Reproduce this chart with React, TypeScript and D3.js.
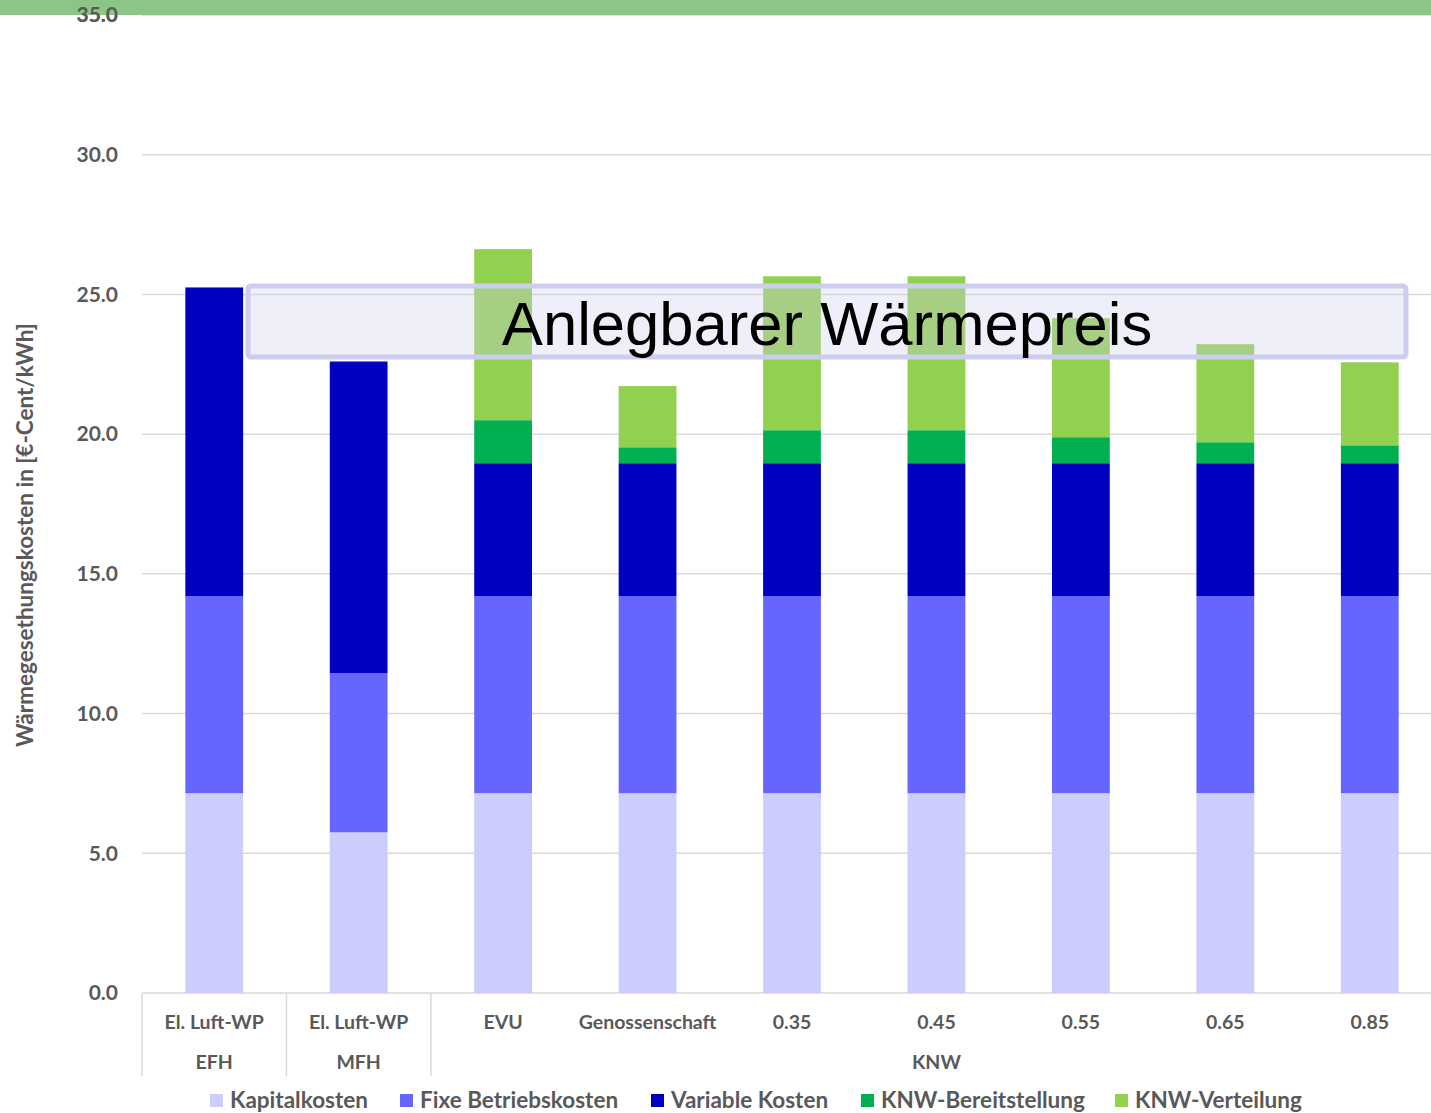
import React from 'react'
import * as d3 from 'd3'

// categories (level 1 / level 2)
const categories = ['El. Luft-WP EFH', 'El. Luft-WP MFH', 'EVU', 'Genossenschaft', '0.35', '0.45', '0.55', '0.65', '0.85']
const catLabels = ['El. Luft-WP', 'El. Luft-WP', 'EVU', 'Genossenschaft', '0.35', '0.45', '0.55', '0.65', '0.85']
const groups = [
  {label: 'EFH', from: 0, to: 0},
  {label: 'MFH', from: 1, to: 1},
  {label: 'KNW', from: 2, to: 8}
]

// series values in ct/kWh
const kapitalkosten = [7.15, 5.75, 7.15, 7.15, 7.15, 7.15, 7.15, 7.15, 7.15]
const fixeBetriebskosten = [7.05, 5.7, 7.05, 7.05, 7.05, 7.05, 7.05, 7.05, 7.05]
const variableKosten = [11.05, 11.15, 4.76, 4.76, 4.76, 4.76, 4.76, 4.76, 4.76]
const knwBereitstellung = [0, 0, 1.54, 0.57, 1.18, 1.18, 0.93, 0.75, 0.64]
const knwVerteilung = [0, 0, 6.12, 2.19, 5.51, 5.51, 4.26, 3.51, 2.97]

const seriesNames = ['Kapitalkosten', 'Fixe Betriebskosten', 'Variable Kosten', 'KNW-Bereitstellung', 'KNW-Verteilung']
const seriesColors = ['#ccccff', '#6666ff', '#0000c0', '#00b050', '#92d050']
const yTicks = [0, 5, 10, 15, 20, 25, 30, 35]

const W = 1431
const H = 1113
const textGray = '#595959'
const font = 'Lato, "Open Sans", sans-serif'

export default function App() {
  const x = d3.scaleBand().domain(categories).range([142, 1442]).paddingInner(0.6).paddingOuter(0.3)
  const y = d3.scaleLinear().domain([0, 35]).range([993, 15])

  const rows = categories.map((c, i) => ({
    cat: c,
    s0: kapitalkosten[i],
    s1: fixeBetriebskosten[i],
    s2: variableKosten[i],
    s3: knwBereitstellung[i],
    s4: knwVerteilung[i]
  }))
  const stacked = d3.stack().keys(['s0', 's1', 's2', 's3', 's4'])(rows as any)

  const step = x.step()
  const x0 = x.range()[0]
  const bandLeft = (i: number) => x0 + i * step

  const legendX = [210, 400, 651, 861, 1115]

  return (
    <svg width={W} height={H} style={{position: 'absolute', left: 0, top: 0, background: '#fff'}}>
      {/* grid */}
      {yTicks.map(t => (
        <line key={t} x1={142} x2={W} y1={y(t)} y2={y(t)} stroke="#d9d9d9" strokeWidth={1.5} />
      ))}

      {/* bars */}
      {stacked.map((layer, si) => (
        <g key={si} fill={seriesColors[si]}>
          {layer.map((d, i) =>
            d[1] - d[0] > 0 ? (
              <rect key={i} x={x(categories[i])} width={x.bandwidth()} y={y(d[1])} height={y(d[0]) - y(d[1])} />
            ) : null
          )}
        </g>
      ))}

      {/* overlay box */}
      <rect x={248} y={286} width={1158} height={71} rx={3} fill="rgb(205,207,238)" fillOpacity={0.33}
        stroke="#cccdf0" strokeWidth={5} />
      <text x={827} y={345} textAnchor="middle" fontFamily='"Liberation Sans", Arial, sans-serif' fontSize={61.6} fill="#000">
        Anlegbarer Wärmepreis
      </text>

      {/* y tick labels */}
      {yTicks.map(t => (
        <text key={t} x={118} y={y(t)} dy="0.35em" textAnchor="end" fontFamily={font} fontWeight={700}
          fontSize={21} fill={textGray}>
          {t.toFixed(1)}
        </text>
      ))}

      {/* y title */}
      <text transform={`translate(33,535) rotate(-90)`} textAnchor="middle" fontFamily={font} fontWeight={700}
        fontSize={22.5} fill={textGray}>
        Wärmegesethungskosten in [€-Cent/kWh]
      </text>

      {/* category axis */}
      {[0, 1, 2, 9].map(i => (
        <line key={i} x1={bandLeft(i)} x2={bandLeft(i)} y1={993} y2={1076} stroke="#d9d9d9" strokeWidth={1.5} />
      ))}
      {catLabels.map((l, i) => (
        <text key={i} x={(x(categories[i]) as number) + x.bandwidth() / 2} y={1022} dy="0.35em" textAnchor="middle"
          fontFamily={font} fontWeight={700} fontSize={19.5} fill={textGray}>
          {l}
        </text>
      ))}
      {groups.map(g => (
        <text key={g.label} x={(bandLeft(g.from) + bandLeft(g.to + 1)) / 2} y={1062} dy="0.35em" textAnchor="middle"
          fontFamily={font} fontWeight={700} fontSize={19.5} fill={textGray}>
          {g.label}
        </text>
      ))}

      {/* legend */}
      {seriesNames.map((n, i) => (
        <g key={n} transform={`translate(${legendX[i]},1099)`}>
          <rect x={0} y={-5} width={13} height={13} fill={seriesColors[i]} />
          <text x={20} y={0} dy="0.38em" fontFamily={font} fontWeight={700} fontSize={22.5} fill={textGray}>
            {n}
          </text>
        </g>
      ))}

      {/* top banner */}
      <rect x={0} y={0} width={W} height={15} fill="#8dc586" />
      <text x={118} y={y(35)} dy="0.35em" textAnchor="end" fontFamily={font} fontWeight={700} fontSize={21} fill={textGray}>
        35.0
      </text>
    </svg>
  )
}
